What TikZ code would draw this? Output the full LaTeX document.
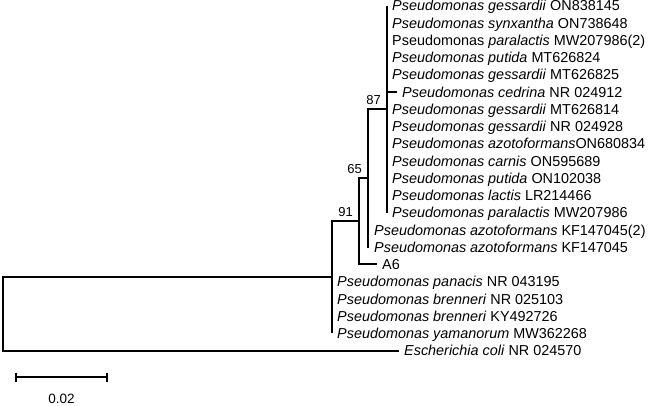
\documentclass[tikz,border=0pt]{standalone}
\usepackage{fontspec}
\setmainfont{Liberation Sans}
\usetikzlibrary{calc}
\begin{document}
\begin{tikzpicture}[x=1pt,y=-1pt,
  br/.style={line width=2pt, line join=miter, line cap=butt},
  leaf/.style={anchor=base west, inner sep=0pt, xshift=5pt, yshift=-5.4pt, font=\fontsize{14.4}{17}\selectfont},
  boot/.style={anchor=base east, inner sep=0pt, xshift=-6pt, yshift=5pt, font=\fontsize{13}{15}\selectfont}]
\useasboundingbox (0,0) rectangle (648,405);
% internal nodes
\coordinate (root) at (3,313.9);
\coordinate (nP) at (332,277.2);
\coordinate (n91) at (359,221.1);
\coordinate (nX) at (368,178);
\coordinate (n87) at (387,109);
% tips
\coordinate (t1) at (387,5.5);
\coordinate (t2) at (387,22.75);
\coordinate (t3) at (387,40);
\coordinate (t4) at (387,57.25);
\coordinate (t5) at (387,74.5);
\coordinate (t6) at (397,91.75);
\coordinate (t7) at (387,109);
\coordinate (t8) at (387,126.25);
\coordinate (t9) at (387,143.5);
\coordinate (t10) at (387,160.75);
\coordinate (t11) at (387,178);
\coordinate (t12) at (387,195.25);
\coordinate (t13) at (387,212.5);
\coordinate (t14) at (369,229.75);
\coordinate (t15) at (369,247);
\coordinate (t16) at (377,264.25);
\coordinate (t17) at (332,281.5);
\coordinate (t18) at (332,298.75);
\coordinate (t19) at (332,316);
\coordinate (t20) at (332,333.25);
\coordinate (t21) at (399,350.5);
% branches
\draw[br] (nP) -- (root |- nP) -- (root |- t21) -- (t21);
\draw[br] (n91) -- (nP |- n91) -- (nP |- t20);
\draw[br] (nX) -- (n91 |- nX) -- (n91 |- t16) -- (t16);
\draw[br] (n87) -- (nX |- n87) -- (nX |- t15) -- (t15);
\draw[br] (nX |- t14) -- (t14);
\draw[br] (n87 |- t1) -- (n87 |- t13);
\draw[br] (n87 |- t6) -- (t6);
% bootstrap values
\node[boot] (b87) at (n87) {87};
\node[boot] (b65) at (nX) {65};
\node[boot] (b91) at (n91) {91};
% leaf labels
\node[leaf] (l1) at (t1) {\textit{Pseudomonas gessardii} ON838145};
\node[leaf] (l2) at (t2) {\textit{Pseudomonas synxantha} ON738648};
\node[leaf] (l3) at (t3) {Pseudomonas \textit{paralactis} MW207986(2)};
\node[leaf] (l4) at (t4) {\textit{Pseudomonas putida} MT626824};
\node[leaf] (l5) at (t5) {\textit{Pseudomonas gessardii} MT626825};
\node[leaf] (l6) at (t6) {\textit{Pseudomonas cedrina} NR 024912};
\node[leaf] (l7) at (t7) {\textit{Pseudomonas gessardii} MT626814};
\node[leaf] (l8) at (t8) {\textit{Pseudomonas gessardii} NR 024928};
\node[leaf] (l9) at (t9) {\textit{Pseudomonas azotoformans}ON680834};
\node[leaf] (l10) at (t10) {\textit{Pseudomonas carnis} ON595689};
\node[leaf] (l11) at (t11) {\textit{Pseudomonas putida} ON102038};
\node[leaf] (l12) at (t12) {\textit{Pseudomonas lactis} LR214466};
\node[leaf] (l13) at (t13) {\textit{Pseudomonas paralactis} MW207986};
\node[leaf] (l14) at (t14) {\textit{Pseudomonas azotoformans} KF147045(2)};
\node[leaf] (l15) at (t15) {\textit{Pseudomonas azotoformans} KF147045};
\node[leaf] (l16) at (t16) {A6};
\node[leaf] (l17) at (t17) {\textit{Pseudomonas panacis} NR 043195};
\node[leaf] (l18) at (t18) {\textit{Pseudomonas brenneri} NR 025103};
\node[leaf] (l19) at (t19) {\textit{Pseudomonas brenneri} KY492726};
\node[leaf] (l20) at (t20) {\textit{Pseudomonas yamanorum} MW362268};
\node[leaf] (l21) at (t21) {\textit{Escherichia coli} NR 024570};
% scale bar
\coordinate (s1) at (16,377);
\coordinate (s2) at (107,377);
\draw[br] (s1) -- (s2);
\draw[br] ([yshift=4.5pt]s1) -- ([yshift=-4.5pt]s1);
\draw[br] ([yshift=4.5pt]s2) -- ([yshift=-4.5pt]s2);
\node[anchor=base, inner sep=0pt, font=\fontsize{13.5}{16}\selectfont] (sl) at ([yshift=-26pt]$(s1)!0.5!(s2)$) {0.02};
\end{tikzpicture}
\end{document}
